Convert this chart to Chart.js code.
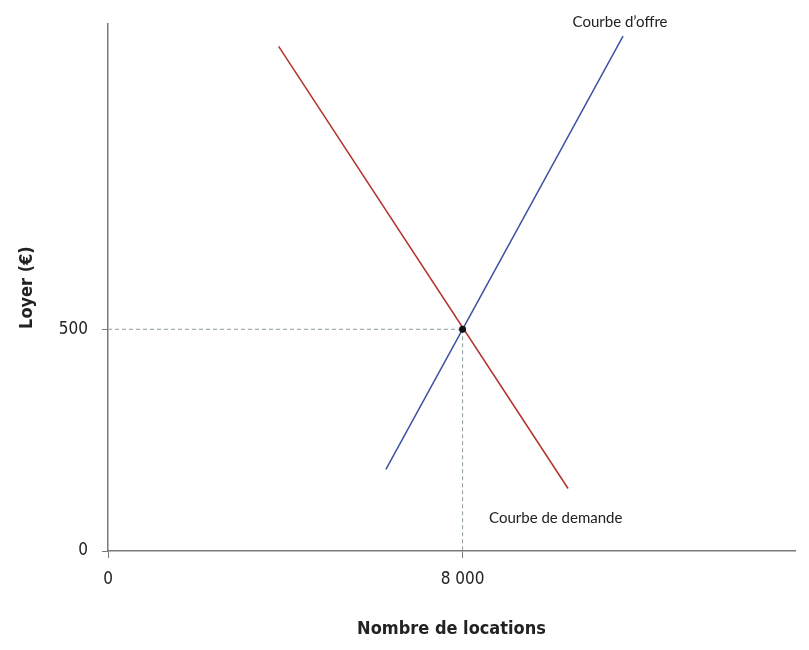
<!DOCTYPE html>
<html lang="fr">
<head>
<meta charset="UTF-8" />
<title>Loyer et nombre de locations</title>
<script src="https://cdn.jsdelivr.net/npm/chart.js"></script>
<style>
  html, body { margin: 0; padding: 0; background: #fff; }
  #wrap { width: 809px; height: 650px; }
</style>
</head>
<body>
<div id="wrap"><canvas id="chart" width="809" height="650"></canvas></div>
<script>
// données
const demandeX = [3850, 10380];
const demandeY = [1138, 141];
const offreX = [6270, 11620];
const offreY = [184, 1161];
const equilibreX = [8000];
const equilibreY = [500];
const xTicks = [0, 8000];
const yTicks = [0, 500];

const rouge = '#b3302d';
const bleu = '#3d52a3';
const gris = '#7a7a7a';
const pointille = '#8d9ba0';
const condensed = "'Liberation Sans Narrow', 'DejaVu Sans Condensed', sans-serif";

const pts = (xs, ys) => xs.map((x, i) => ({ x: x, y: ys[i] }));

// libellés des courbes, placés à partir des extrémités des courbes
const etiquettes = {
  id: 'etiquettes',
  afterDatasetsDraw(chart) {
    const { ctx, scales: { x, y } } = chart;
    ctx.save();
    ctx.fillStyle = '#222';
    ctx.font = "15px Lato, 'Open Sans', sans-serif";
    ctx.textBaseline = 'middle';
    ctx.textAlign = 'center';
    ctx.fillText('Courbe d\u2019offre', x.getPixelForValue(offreX[1]) - 3, y.getPixelForValue(offreY[1]) - 14);
    ctx.textAlign = 'left';
    ctx.fillText('Courbe de demande', x.getPixelForValue(demandeX[1]) - 79, y.getPixelForValue(demandeY[1]) + 30);
    ctx.restore();
  }
};

new Chart(document.getElementById('chart'), {
  type: 'scatter',
  data: {
    datasets: [
      {
        label: '\u00c9quilibre',
        data: pts(equilibreX, equilibreY),
        pointRadius: 3.5, pointBackgroundColor: '#111', pointBorderColor: '#111', pointBorderWidth: 0
      },
      {
        label: 'Courbe de demande',
        data: pts(demandeX, demandeY),
        showLine: true, borderColor: rouge, borderWidth: 1.5, pointRadius: 0
      },
      {
        label: 'Courbe d\u2019offre',
        data: pts(offreX, offreY),
        showLine: true, borderColor: bleu, borderWidth: 1.5, pointRadius: 0
      },
      {
        label: 'Guide horizontal',
        data: [{ x: 0, y: equilibreY[0] }, { x: equilibreX[0], y: equilibreY[0] }],
        showLine: true, borderColor: pointille, borderWidth: 1, borderDash: [4, 3],
        pointRadius: 0
      },
      {
        label: 'Guide vertical',
        data: [{ x: equilibreX[0], y: equilibreY[0] }, { x: equilibreX[0], y: 0 }],
        showLine: true, borderColor: pointille, borderWidth: 1, borderDash: [4, 3],
        pointRadius: 0
      }
    ]
  },
  options: {
    responsive: false,
    animation: false,
    layout: { padding: { left: 0, top: 21, right: 14, bottom: 0 } },
    plugins: { legend: { display: false }, tooltip: { enabled: false } },
    scales: {
      x: {
        type: 'linear', min: 0, max: 15500,
        afterFit: s => { s.height = 99; },
        afterBuildTicks: s => { s.ticks = xTicks.map(v => ({ value: v })); },
        border: { color: gris, width: 1.5 },
        grid: { drawOnChartArea: false, color: gris, tickLength: 7, lineWidth: 1 },
        ticks: {
          color: '#222', padding: 11, maxRotation: 0,
          font: { family: condensed, size: 17 },
          callback: v => v === 0 ? '0' : v.toLocaleString('fr-FR').replace(/\s/g, ' ')
        },
        title: {
          display: true, text: 'Nombre de locations', color: '#222',
          font: { family: condensed, size: 18, weight: 'bold' },
          padding: { top: 0, bottom: 10 }
        }
      },
      y: {
        type: 'linear', min: 0, max: 1188,
        afterFit: s => { s.width = 108; },
        afterBuildTicks: s => { s.ticks = yTicks.map(v => ({ value: v })); },
        border: { color: gris, width: 1.5 },
        grid: { drawOnChartArea: false, color: gris, tickLength: 6, lineWidth: 1 },
        ticks: {
          color: '#222', padding: 14,
          font: { family: condensed, size: 17 }
        },
        title: {
          display: true, text: 'Loyer (\u20ac)', color: '#222',
          font: { family: condensed, size: 18, weight: 'bold' },
          padding: { top: 17, bottom: 0 }
        }
      }
    }
  },
  plugins: [etiquettes]
});
</script>
</body>
</html>
